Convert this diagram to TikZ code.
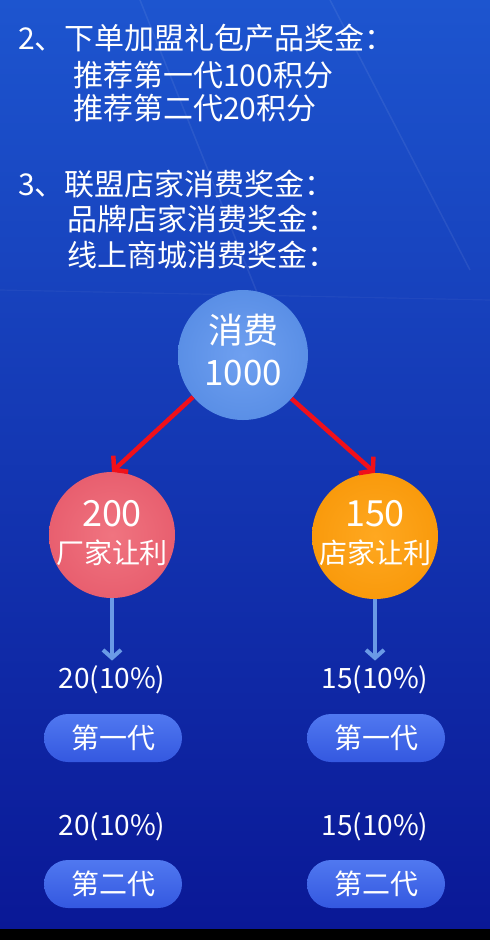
\documentclass[tikz,border=0pt]{standalone}
\usepackage{fontspec}
\setmainfont{Noto Sans CJK SC}
\usetikzlibrary{arrows.meta,shapes.misc}
\definecolor{bgtop}{HTML}{1D55CF}
\definecolor{bgmid}{HTML}{1746CC}
\definecolor{bgbot}{HTML}{0A1896}
\definecolor{topball}{HTML}{5A8FE6}
\definecolor{topballin}{HTML}{6FA0F0}
\definecolor{redball}{HTML}{E85F6F}
\definecolor{redballin}{HTML}{F07480}
\definecolor{orball}{HTML}{F99A0C}
\definecolor{orballin}{HTML}{FFA820}
\definecolor{redarrow}{HTML}{F0101A}
\definecolor{bluearrow}{HTML}{6A9AE6}
\definecolor{pilltop}{HTML}{5078F0}
\definecolor{pillbot}{HTML}{3458E0}
\tikzset{
  headline/.style={anchor=west,text=white,font=\fontsize{30}{30}\selectfont,inner sep=0pt},
  ball/.style={circle,minimum size=126pt,inner sep=0pt,align=center,text=white},
  redarr/.style={draw=redarrow,line width=4.5pt,-{Straight Barb[length=9pt,width=22pt,line width=4.5pt]}},
  bluearr/.style={draw=bluearrow,line width=4pt,-{Straight Barb[length=8pt,width=18pt,line width=4pt]}},
  amount/.style={text=white,font=\fontsize{28}{28}\selectfont,inner sep=0pt},
  pill/.style={rounded rectangle,minimum width=138pt,minimum height=48pt,inner sep=0pt,
    top color=pilltop,bottom color=pillbot,text=white,font=\fontsize{28}{28}\selectfont}
}
\begin{document}
\begin{tikzpicture}[x=1pt,y=-1pt]
\useasboundingbox (0,0) rectangle (490,940);
\shade[top color=bgtop,middle color=bgmid,bottom color=bgbot] (0,0) rectangle (490,929);
\fill[black] (0,929) rectangle (490,940);
% faint streaks
\draw[white,opacity=0.07,line width=1.5pt] (140,0) -- (260,300);
\draw[white,opacity=0.07,line width=1.5pt] (330,0) -- (470,270);
\draw[white,opacity=0.04,line width=1.2pt] (0,290) -- (490,300);
% texts
\node[headline] (l1) at (18,38) {2、下单加盟礼包产品奖金：};
\node[headline] (l2) at (73,75) {推荐第一代100积分};
\node[headline] (l3) at (73,108) {推荐第二代20积分};
\node[headline] (l4) at (18,184) {3、联盟店家消费奖金：};
\node[headline] (l5) at (67,219) {品牌店家消费奖金：};
\node[headline] (l6) at (67,255) {线上商城消费奖金：};
% balls
\node[ball,inner color=topballin,outer color=topball,minimum size=130pt] (top) at (243,355) {};
\node[text=white,font=\fontsize{35}{35}\selectfont,inner sep=0pt] (t1) at (243,330) {消费};
\node[text=white,font=\fontsize{35}{35}\selectfont,inner sep=0pt] (t2) at (243,373) {1000};
\node[ball,inner color=redballin,outer color=redball] (left) at (112,535) {};
\node[text=white,font=\fontsize{36}{36}\selectfont,inner sep=0pt] (lt1) at (112,514) {200};
\node[text=white,font=\fontsize{28}{28}\selectfont,inner sep=0pt] (lt2) at (112,553) {厂家让利};
\node[ball,inner color=orballin,outer color=orball] (right) at (375,536) {};
\node[text=white,font=\fontsize{36}{36}\selectfont,inner sep=0pt] (rt1) at (375,514) {150};
\node[text=white,font=\fontsize{28}{28}\selectfont,inner sep=0pt] (rt2) at (375,553) {店家让利};
% red arrows
\draw[redarr] (top.220) -- (left.north);
\draw[redarr] (top.318) -- (right.north);
% amounts and pills
\node[amount] (a1) at (112,680) {20(10\%)};
\node[amount] (b1) at (375,680) {15(10\%)};
\coordinate (a1top) at ([yshift=5pt]a1.north);
\coordinate (b1top) at ([yshift=5pt]b1.north);
\draw[bluearr] (left.south) -- (a1top);
\draw[bluearr] (right.south) -- (b1top);
\node[pill] (p1) at (113,738) {第一代};
\node[pill] (q1) at (376,738) {第一代};
\node[amount] (a2) at (112,827) {20(10\%)};
\node[amount] (b2) at (375,827) {15(10\%)};
\node[pill] (p2) at (113,884) {第二代};
\node[pill] (q2) at (376,884) {第二代};
\end{tikzpicture}
\end{document}
